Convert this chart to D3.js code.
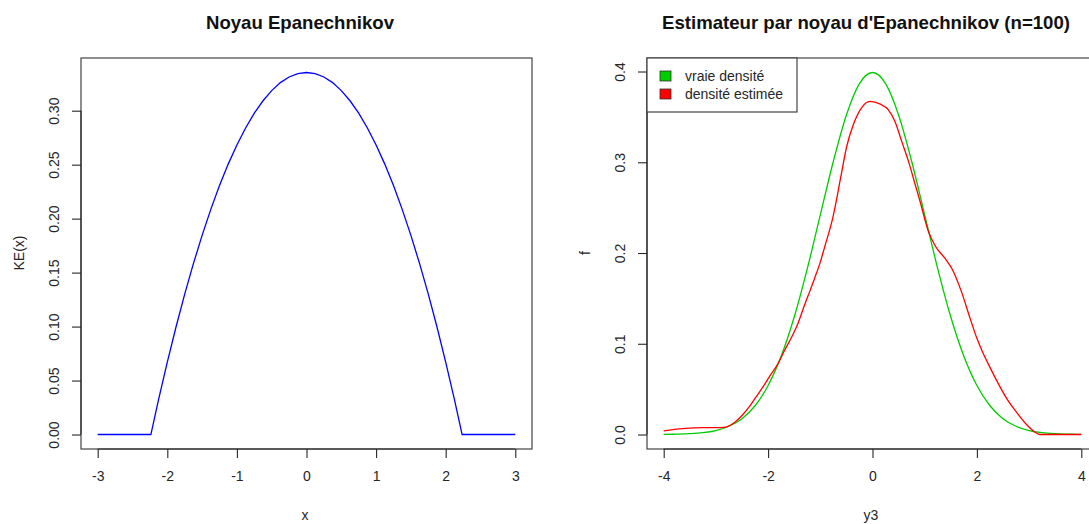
<!DOCTYPE html>
<html><head><meta charset="utf-8">
<script src="https://cdn.jsdelivr.net/npm/d3@7"></script>
<style>
body{margin:0;background:#fff;}
svg{display:block;font-family:"Liberation Sans",Arial,sans-serif;}
</style></head>
<body>
<svg id="chart" width="1089" height="524"></svg>
<script>
// ---- Data ----
// Left panel: Epanechnikov kernel
const kernelX = [-3, -2.236, -2.125, -2, -1.875, -1.75, -1.625, -1.5, -1.375, -1.25, -1.125, -1, -0.875, -0.75, -0.625, -0.5, -0.375, -0.25, -0.125, 0,
                 0.125, 0.25, 0.375, 0.5, 0.625, 0.75, 0.875, 1, 1.125, 1.25, 1.375, 1.5, 1.625, 1.75, 1.875, 2, 2.125, 2.236, 3];
const kernelY = [0, 0, 0.0325, 0.0671, 0.0996, 0.1300, 0.1583, 0.1845, 0.2086, 0.2306, 0.2505, 0.2683, 0.2840, 0.2977, 0.3092, 0.3186, 0.3260, 0.3312, 0.3344, 0.3354,
                 0.3344, 0.3312, 0.3260, 0.3186, 0.3092, 0.2977, 0.2840, 0.2683, 0.2505, 0.2306, 0.2086, 0.1845, 0.1583, 0.1300, 0.0996, 0.0671, 0.0325, 0, 0];
const leftXTicks = [-3, -2, -1, 0, 1, 2, 3];
const leftYTicks = [0, 0.05, 0.10, 0.15, 0.20, 0.25, 0.30];

// Right panel: true density (green) and estimated density (red)
const trueX = [-4, -3.75, -3.5, -3.25, -3, -2.75, -2.5, -2.25, -2, -1.75, -1.5, -1.25, -1, -0.75, -0.5, -0.25, 0, 0.25, 0.5, 0.75, 1, 1.25, 1.5, 1.75, 2, 2.25, 2.5, 2.75, 3, 3.25, 3.5, 3.75, 4];
const trueY = [0.0001, 0.0004, 0.0009, 0.0020, 0.0044, 0.0091, 0.0175, 0.0317, 0.0540, 0.0863, 0.1295, 0.1826, 0.2420, 0.3011, 0.3521, 0.3867, 0.3989, 0.3867, 0.3521, 0.3011, 0.2420, 0.1826, 0.1295, 0.0863, 0.0540, 0.0317, 0.0175, 0.0091, 0.0044, 0.0020, 0.0009, 0.0004, 0.0001];
const estX = [-4.0, -3.75, -3.5, -3.25, -3.0, -2.85, -2.65, -2.5, -2.33, -2.2, -2.07, -1.95, -1.82, -1.69, -1.56, -1.43, -1.3, -1.2, -1.11, -1.0, -0.92, -0.76, -0.60, -0.50, -0.37, -0.21, -0.05, 0.15, 0.30, 0.43, 0.56, 0.69, 0.82, 0.91, 1.07, 1.2, 1.39, 1.52, 1.7, 1.87, 2.0, 2.1, 2.25, 2.42, 2.6, 2.74, 2.95, 3.13, 3.2, 4.0];
const estY = [0.004, 0.006, 0.007, 0.0075, 0.0075, 0.0078, 0.013, 0.021, 0.033, 0.044, 0.055, 0.066, 0.077, 0.092, 0.106, 0.122, 0.143, 0.158, 0.172, 0.190, 0.206, 0.239, 0.286, 0.316, 0.341, 0.360, 0.367, 0.364, 0.358, 0.345, 0.323, 0.301, 0.275, 0.257, 0.224, 0.208, 0.194, 0.183, 0.158, 0.128, 0.106, 0.092, 0.074, 0.055, 0.037, 0.026, 0.011, 0.002, 0.0, 0.0];
const rightXTicks = [-4, -2, 0, 2, 4];
const rightYTicks = [0, 0.1, 0.2, 0.3, 0.4];
const legendLabels = ["vraie densité", "densité estimée"];
const legendColors = ["#00cd00", "#ff0000"];

// ---- Drawing ----
const svg = d3.select("#chart");
svg.append("rect").attr("width", 1089).attr("height", 524).attr("fill", "#fff");
const ink = "#262626";
const plotTop = 58, plotBottom = 449;

function panel(opts) {
  const g = svg.append("g");
  const x = d3.scaleLinear().domain(opts.xDomain).range(opts.xRange);
  const y = d3.scaleLinear().domain(opts.yDomain).range([plotBottom, plotTop]);

  // box
  g.append("rect").attr("x", opts.xRange[0]).attr("y", plotTop)
    .attr("width", opts.xRange[1] - opts.xRange[0]).attr("height", plotBottom - plotTop)
    .attr("fill", "none").attr("stroke", "#444").attr("stroke-width", 1.2);

  // x axis (R style)
  const xa = g.append("g").attr("transform", `translate(0,${plotBottom})`)
    .call(d3.axisBottom(x).tickValues(opts.xTicks).tickFormat(d => String(d)).tickSizeOuter(0).tickSize(9).tickPadding(13));
  xa.select(".domain").attr("d", `M${x(opts.xTicks[0])},0H${x(opts.xTicks[opts.xTicks.length-1])}`);
  xa.selectAll("line,path").attr("stroke", ink).attr("stroke-width", 1.1);
  xa.selectAll("text").attr("font-size", 14).attr("fill", ink).attr("font-family", "Liberation Sans, Arial, sans-serif");

  // y axis
  const ya = g.append("g").attr("transform", `translate(${opts.xRange[0]},0)`)
    .call(d3.axisLeft(y).tickValues(opts.yTicks).tickFormat(d3.format(opts.yFmt)).tickSizeOuter(0).tickSize(9));
  ya.select(".domain").attr("d", `M0,${y(opts.yTicks[0])}V${y(opts.yTicks[opts.yTicks.length-1])}`);
  ya.selectAll("line,path").attr("stroke", ink).attr("stroke-width", 1.1);
  ya.selectAll(".tick text").attr("font-size", 14).attr("fill", ink)
    .attr("font-family", "Liberation Sans, Arial, sans-serif")
    .attr("x", null).attr("dy", null)
    .attr("transform", "translate(-27,0) rotate(-90)")
    .attr("text-anchor", "middle").attr("dominant-baseline", "central");

  // titles
  const cx = (opts.xRange[0] + opts.xRange[1]) / 2;
  g.append("text").attr("x", opts.titleX || cx).attr("y", 22).attr("text-anchor", "middle")
    .attr("dominant-baseline", "central").attr("font-weight", "bold").attr("font-size", 18.6)
    .attr("fill", "#111").text(opts.title);
  g.append("text").attr("x", opts.xLabelX || cx).attr("y", 515).attr("text-anchor", "middle")
    .attr("dominant-baseline", "central").attr("font-size", 14).attr("fill", ink).text(opts.xLabel);
  g.append("text").attr("transform", `translate(${opts.yLabelX},253) rotate(-90)`)
    .attr("text-anchor", "middle").attr("dominant-baseline", "central")
    .attr("font-size", 14).attr("fill", ink).text(opts.yLabel);

  return {g, x, y};
}

// Left panel
const L = panel({
  xDomain: [-3.24, 3.24], xRange: [81, 532],
  yDomain: [-0.013416, 0.348816],
  xTicks: leftXTicks, yTicks: leftYTicks, yFmt: ".2f",
  title: "Noyau Epanechnikov", titleX: 300, xLabel: "x", xLabelX: 305, yLabel: "KE(x)", yLabelX: 19
});
const lineL = d3.line().x((d, i) => L.x(kernelX[i])).y(d => L.y(d));
L.g.append("path").datum(kernelY).attr("d", lineL).attr("fill", "none")
  .attr("stroke", "#0000ff").attr("stroke-width", 1.3);

// Right panel
const R = panel({
  xDomain: [-4.32, 4.32], xRange: [647, 1098],
  yDomain: [-0.015957, 0.414887],
  xTicks: rightXTicks, yTicks: rightYTicks, yFmt: ".1f",
  title: "Estimateur par noyau d'Epanechnikov (n=100)", titleX: 866, xLabel: "y3", xLabelX: 871, yLabel: "f", yLabelX: 585
});
const lineT = d3.line().curve(d3.curveMonotoneX).x((d, i) => R.x(trueX[i])).y(d => R.y(d));
const lineE = d3.line().curve(d3.curveMonotoneX).x((d, i) => R.x(estX[i])).y(d => R.y(d));
R.g.append("path").datum(trueY).attr("d", lineT).attr("fill", "none")
  .attr("stroke", legendColors[0]).attr("stroke-width", 1.3);
R.g.append("path").datum(estY).attr("d", lineE).attr("fill", "none")
  .attr("stroke", legendColors[1]).attr("stroke-width", 1.3);

// Legend (top-left of right panel)
const lg = R.g.append("g");
lg.append("rect").attr("x", 647).attr("y", 58).attr("width", 150).attr("height", 54)
  .attr("fill", "#fff").attr("stroke", "#444").attr("stroke-width", 1.2);
legendLabels.forEach((lab, i) => {
  const cy = 76 + i * 18;
  lg.append("rect").attr("x", 660).attr("y", cy - 5).attr("width", 11).attr("height", 10)
    .attr("fill", legendColors[i]).attr("stroke", "#333").attr("stroke-width", 0.8);
  lg.append("text").attr("x", 685).attr("y", cy).attr("dominant-baseline", "central")
    .attr("font-size", 14).attr("fill", ink).text(lab);
});
</script>
</body></html>
